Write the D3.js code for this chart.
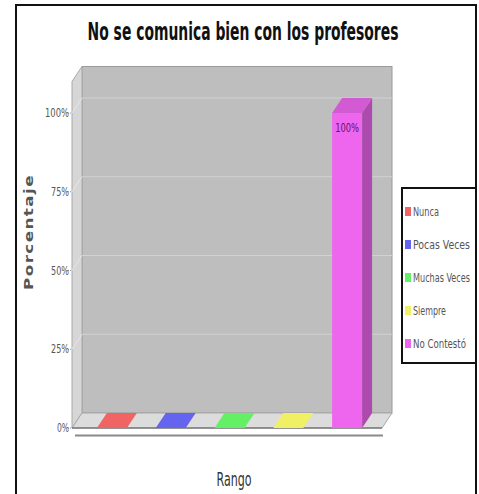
<!DOCTYPE html>
<html><head><meta charset="utf-8">
<script src="https://cdn.jsdelivr.net/npm/d3@7"></script>
<style>body{margin:0;background:#fff}svg{display:block}</style>
</head><body>
<script>
const categories = ["Nunca","Pocas Veces","Muchas Veces","Siempre","No Contestó"];
const values = [0,0,0,0,100];
const colors = ["#f06464","#6464f0","#64f064","#f0f064","#ee66ee"];
const tickValues = [0,25,50,75,100];
const tickLabels = ["0%","25%","50%","75%","100%"];
const title = "No se comunica bien con los profesores";
const yTitle = "Porcentaje";
const xTitle = "Rango";

const W=479,H=494;
const svg=d3.select("body").append("svg").attr("width",W).attr("height",H);
const font="'DejaVu Sans Condensed','DejaVu Sans',sans-serif";

function fitText(parent, str, x, y, width, anchor, attrs, rot){
  const gg=parent.append("g");
  const t=gg.append("text").attr("x",0).attr("y",0).attr("text-anchor",anchor).text(str);
  Object.entries(attrs).forEach(([k,v])=>t.attr(k,v));
  const w=t.node().getComputedTextLength();
  const s=width/w;
  gg.attr("transform",`translate(${x},${y})${rot?` rotate(${rot})`:""} scale(${s},1)`);
  return gg;
}

svg.append("rect").attr("x",16).attr("y",5).attr("width",460).attr("height",500)
  .attr("fill","#fff").attr("stroke","#111").attr("stroke-width",2);

const dx=10, dy=-15;
const x0=72, x1=382;
const y=d3.scaleLinear().domain([0,110]).range([428,81.5]);
const xb=d3.scaleBand().domain(categories).range([82.5,376.5]).paddingInner(0.49).paddingOuter(0.245);

const g=svg.append("g");
g.append("rect").attr("x",x0+dx).attr("y",y(110)+dy).attr("width",x1-x0).attr("height",y(0)-y(110))
  .attr("fill","#bebebe").attr("stroke","#9a9a9a").attr("stroke-width",1);
g.append("path").attr("d",`M${x0},${y(110)}L${x0+dx},${y(110)+dy}L${x0+dx},${y(0)+dy}L${x0},${y(0)}Z`)
  .attr("fill","#d6d6d6").attr("stroke","#a8a8a8").attr("stroke-width",1);
g.append("path").attr("d",`M${x0},${y(0)}L${x0+dx},${y(0)+dy}L${x1+dx},${y(0)+dy}L${x1},${y(0)}Z`)
  .attr("fill","#dcdcdc").attr("stroke","#a8a8a8").attr("stroke-width",1);
tickValues.filter(v=>v>0).forEach(v=>{
  g.append("line").attr("x1",x0+dx).attr("x2",x1+dx).attr("y1",y(v)+dy).attr("y2",y(v)+dy)
    .attr("stroke","#d2d2d2").attr("stroke-width",1);
  g.append("line").attr("x1",x0).attr("x2",x0+dx).attr("y1",y(v)).attr("y2",y(v)+dy)
    .attr("stroke","#e6e6e6").attr("stroke-width",1);
});
g.append("line").attr("x1",x0).attr("x2",x1).attr("y1",y(0)).attr("y2",y(0)).attr("stroke","#555").attr("stroke-width",1);
g.append("line").attr("x1",x0+3).attr("x2",x1+1).attr("y1",y(0)+7.5).attr("y2",y(0)+7.5).attr("stroke","#8a8a8a").attr("stroke-width",2);

tickValues.forEach((v,i)=>{
  g.append("line").attr("x1",x0-4).attr("x2",x0).attr("y1",y(v)).attr("y2",y(v))
    .attr("stroke","#999").attr("stroke-dasharray","1,1");
  fitText(g, tickLabels[i], x0-3, y(v)+4, tickLabels[i].length*6, "end",
    {"font-family":font,"font-size":12,"fill":"#555"});
});

categories.forEach((c,i)=>{
  const v=values[i], bx=xb(c), bw=xb.bandwidth(), yt=y(v), yb=y(0);
  const col=d3.color(colors[i]);
  if(v>0){
    g.append("rect").attr("x",bx).attr("y",yt).attr("width",bw).attr("height",yb-yt).attr("fill",col.formatHex());
    g.append("path").attr("d",`M${bx+bw},${yt}L${bx+bw+dx},${yt+dy}L${bx+bw+dx},${yb+dy}L${bx+bw},${yb}Z`)
      .attr("fill",col.darker(0.9).formatHex());
  }
  g.append("path").attr("d",`M${bx},${yt}L${bx+dx},${yt+dy}L${bx+bw+dx},${yt+dy}L${bx+bw},${yt}Z`)
    .attr("fill",v>0?col.darker(0.35).formatHex():col.formatHex());
  if(v>0){
    fitText(g, v+"%", bx+bw/2, yt+19, 24, "middle",
      {"font-family":font,"font-size":12,"fill":"#6a106a"});
  }
});

fitText(svg, title, 243, 40, 311, "middle",
  {"font-family":font,"font-weight":"bold","font-size":24,"fill":"#111"});
fitText(svg, yTitle, 33, 232, 116, "middle",
  {"font-family":"'DejaVu Sans',sans-serif","font-weight":"bold","font-size":12,"fill":"#555","letter-spacing":1}, -90);
fitText(svg, xTitle, 234, 486, 35, "middle",
  {"font-family":font,"font-size":19,"fill":"#333"});

const lg=svg.append("g");
lg.append("rect").attr("x",402).attr("y",188).attr("width",74).attr("height",175)
  .attr("fill","#fff").attr("stroke","#111").attr("stroke-width",2);
const legendWidths=[26,57,57,33,53];
categories.forEach((c,i)=>{
  const ly=212+i*33;
  lg.append("rect").attr("x",405).attr("y",ly-5).attr("width",6).attr("height",9).attr("fill",colors[i]);
  fitText(lg, c, 413, ly+4, legendWidths[i], "start",
    {"font-family":font,"font-size":12,"fill":"#555"});
});
</script>
</body></html>
